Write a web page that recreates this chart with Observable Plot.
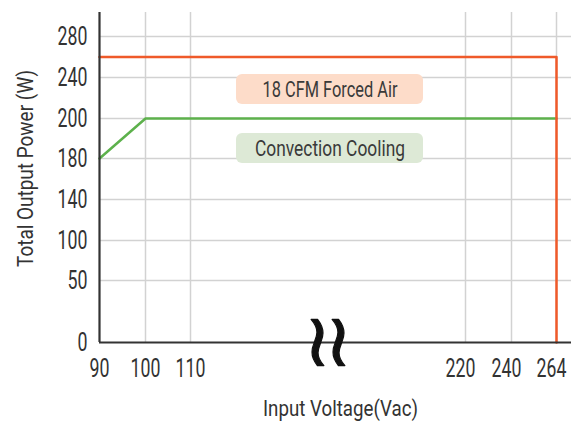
<!DOCTYPE html>
<html>
<head>
<meta charset="utf-8">
<script src="https://cdn.jsdelivr.net/npm/d3@7"></script>
<script src="https://cdn.jsdelivr.net/npm/@observablehq/plot@0.6"></script>
<style>
  html, body { margin: 0; padding: 0; background: #fff; }
  #chart svg { display: block; }
</style>
</head>
<body>
<div id="chart"></div>
<script>
// Tick labels (axis breaks make the scales piecewise)
const xTicksLow = [90, 100, 110];
const xTicksHigh = [220, 240, 264];
const yTicks = [0, 50, 100, 140, 180, 200, 240, 280];

// Series: input voltage (Vac) vs total output power (W)
const forcedAirV = [90, 264, 264];
const forcedAirW = [260, 260, 0];
const convectionV = [90, 100, 264];
const convectionW = [180, 200, 200];

// Annotation labels
const labelText = ["18 CFM Forced Air", "Convection Cooling"];
const labelFill = ["#fddcc9", "#dde9d6"];
const labelV = [165.8, 165.8];
const labelW = [228.3, 185];
const labelV1 = [128.4, 128.4];
const labelV2 = [203.2, 203.2];
const labelW1 = [213.7, 175.1];
const labelW2 = [242.9, 192.5];

const breakV = 164.8;
const xTitle = "Input Voltage(Vac)";
const yTitle = "Total Output Power (W)";

const FONT = "Roboto, 'DejaVu Sans Condensed', sans-serif";

const forced = forcedAirV.map((v, i) => ({v, w: forcedAirW[i]}));
const conv = convectionV.map((v, i) => ({v, w: convectionW[i]}));
const labels = labelText.map((t, i) => ({
  t, fill: labelFill[i], v: labelV[i], w: labelW[i],
  v1: labelV1[i], v2: labelV2[i], w1: labelW1[i], w2: labelW2[i]
}));
const xTicks = xTicksLow.concat(xTicksHigh);

const tickStyle = {tickSize: 0, tickPadding: 17, fontSize: 25, fill: "#333", label: null, tickFormat: d => String(d)};

const chart = Plot.plot({
  width: 571,
  height: 421,
  marginLeft: 99,
  marginRight: 0,
  marginTop: 12,
  marginBottom: 79,
  style: {fontFamily: FONT, color: "#333", background: "#fff"},
  x: {type: "linear", domain: [90, 100, 110, 220, 240, 264, 272], range: [99, 145, 190, 465, 511, 556, 571]},
  y: {type: "linear", domain: [0, 50, 100, 140, 180, 200, 240, 280, 304], range: [342, 280, 240, 199, 158, 118, 77, 36, 12]},
  marks: [
    Plot.gridX(xTicks.slice(1), {stroke: "#d2d2d2", strokeOpacity: 1, strokeWidth: 1.5}),
    Plot.gridY(yTicks.slice(1), {stroke: "#d2d2d2", strokeOpacity: 1, strokeWidth: 1.5}),
    Plot.axisX(xTicksLow, tickStyle),
    Plot.axisX(xTicksHigh, {...tickStyle, dx: -5}),
    Plot.axisY(yTicks, {tickSize: 0, tickPadding: 12, fontSize: 25, fill: "#333", label: null, tickFormat: d => String(d)}),
    Plot.rect(labels, {x1: "v1", x2: "v2", y1: "w1", y2: "w2", fill: "fill", rx: 6}),
    Plot.text(labels, {x: "v", y: "w", text: "t", fontSize: 22, fill: "#3a3a3a"}),
    Plot.line(conv, {x: "v", y: "w", stroke: "#5db14c", strokeWidth: 2.5}),
    Plot.line(forced, {x: "v", y: "w", stroke: "#ef5a2a", strokeWidth: 2.5}),
    Plot.ruleX([90], {stroke: "#333", strokeWidth: 2.2}),
    Plot.ruleY([0], {stroke: "#333", strokeWidth: 2.2}),
    Plot.text(["~"], {x: () => breakV, y: 0, dx: -10, text: d => d, rotate: 90, fontSize: 74, fill: "#111", stroke: "#111", strokeWidth: 1.2, fontFamily: "DejaVu Sans"}),
    Plot.text(["~"], {x: () => breakV, y: 0, dx: 11, text: d => d, rotate: 90, fontSize: 74, fill: "#111", stroke: "#111", strokeWidth: 1.2, fontFamily: "DejaVu Sans"}),
    Plot.text([yTitle], {frameAnchor: "left", textAnchor: "middle", lineAnchor: "middle", dx: -74, dy: -9, rotate: -90, fontSize: 22, fill: "#333", text: d => d}),
    Plot.text([xTitle], {frameAnchor: "bottom", textAnchor: "middle", lineAnchor: "middle", dx: 5, dy: 66, fontSize: 22, fill: "#333", text: d => d})
  ]
});
document.getElementById("chart").append(chart);

// condense the text to match the narrow typeface of the reference
const targetWidth = {
  "18 CFM Forced Air": 135,
  "Convection Cooling": 150,
  "Input Voltage(Vac)": 155,
  "Total Output Power (W)": 197
};
chart.querySelectorAll("text").forEach(t => {
  const s = t.textContent;
  if (s === "~") return;
  const len = t.getComputedTextLength();
  if (!(len > 0)) return;
  const w = targetWidth[s] !== undefined ? targetWidth[s] : len * 0.71;
  t.setAttribute("textLength", w.toFixed(1));
  t.setAttribute("lengthAdjust", "spacingAndGlyphs");
  if (s === String(xTicksHigh[xTicksHigh.length - 1])) {
    // right-align the last tick label so it stays inside the picture
    t.setAttribute("text-anchor", "end");
    t.setAttribute("x", (w / 2).toFixed(1));
  }
});
</script>
</body>
</html>
